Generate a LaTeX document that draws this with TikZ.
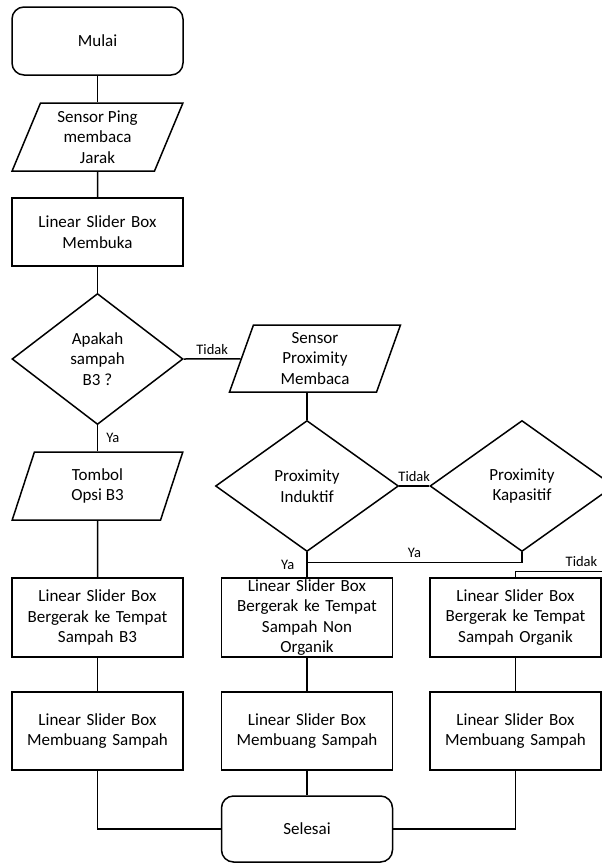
\documentclass[tikz,border=0pt]{standalone}
\usepackage{fontspec}
\setmainfont{Carlito}
\usetikzlibrary{shapes.geometric}

\newcommand{\flowfont}{\fontsize{17}{20.5}\selectfont}
\newcommand{\tagfont}{\fontsize{14.5}{16}\selectfont}

\begin{document}
\begin{tikzpicture}[x=1pt, y=-1pt, auto,
    terminal/.style ={rectangle, draw=black, line width=1.5pt, rounded corners=12pt,
      minimum width=171pt, minimum height=68pt, font=\flowfont},
    io/.style ={trapezium, draw=black, line width=1.5pt, trapezium stretches=true,
      trapezium left angle=72, trapezium right angle=108,
      minimum width=171pt, minimum height=68pt, align=center, font=\flowfont},
    decision/.style={diamond, draw=black, line width=1.5pt, inner sep=0pt,
      minimum width=171pt, minimum height=131pt, align=center, font=\flowfont},
    block_center/.style ={rectangle, draw=black, line width=1.5pt,
      text width=160pt, align=center, inner xsep=5.5pt, inner ysep=0pt,
      minimum width=171pt, minimum height=79pt, font=\flowfont},
    tag/.style ={font=\tagfont, inner sep=4pt},
    line/.style ={draw, line width=1.5pt}]

    \useasboundingbox (0,0) rectangle (602,863);
    \clip (0,0) rectangle (602,863);

    % Place nodes, first column
    \node [terminal] (mulai) at (97.5,41) {Mulai};
    \node [io, trapezium left angle=70, trapezium right angle=110] (ping) at (97.5,137) {Sensor Ping\\membaca\\Jarak};
    \node [block_center, minimum height=68pt] (membuka) at (97.5,232) {Linear Slider Box\\Membuka};
    \node [decision] (b3) at (97.5,359) {Apakah\\sampah\\B3 ?};
    \node [io, trapezium left angle=76, trapezium right angle=104] (tombol) at (97.5,486) {Tombol\\Opsi B3};
    \node [block_center] (b3box) at (97.5,617.5) {Linear Slider Box\\Bergerak ke Tempat\\Sampah B3};
    \node [block_center, minimum height=78pt] (dump1) at (97.5,731) {Linear Slider Box\\Membuang Sampah};

    % second column
    \node [io, minimum height=67pt, trapezium left angle=76, trapezium right angle=104] (prox) at (315,358.5) {Sensor\\Proximity\\Membaca};
    \node [decision, minimum width=183pt] (ind) at (307,486) {Proximity\\Induktif};
    \node [block_center] (nonorg) at (307,617.5) {Linear Slider Box\\Bergerak ke Tempat\\Sampah Non\\Organik};
    \node [block_center, minimum height=78pt] (dump2) at (307,731) {Linear Slider Box\\Membuang Sampah};
    \node [terminal, minimum height=66pt] (selesai) at (307,829) {Selesai};

    % third column
    \node [decision, minimum width=184pt] (kap) at (522,486) {Proximity\\Kapasitif};
    \node [block_center] (organik) at (515.5,617.5) {Linear Slider Box\\Bergerak ke Tempat\\Sampah Organik};
    \node [block_center, minimum height=78pt] (dump3) at (515.5,731) {Linear Slider Box\\Membuang Sampah};

    % joints of the connectors
    \coordinate (yajoin) at ([yshift=-10pt]ind.south);
    \coordinate (kapturn) at (640,486);
    \coordinate (kapjoin) at ([yshift=6pt]organik.north);

    % paths from the first column
    \path [line] (mulai) -- (ping);
    \path [line] (ping) -- (membuka);
    \path [line] (membuka) -- (b3);
    \path [line] (b3) -- node [tag, right, xshift=4pt] {Ya} (tombol);
    \path [line] (tombol) -- (b3box);
    \path [line] (b3box) -- (dump1);
    \path [line] (dump1.south) |- (selesai.west);
    \path [line] (b3.east) -- node [tag, above] {Tidak} (prox);

    % paths from the second column
    \path [line] (ind.north |- prox.south) -- (ind.north);
    \path [line] (ind.east) -- node [tag, above] {Tidak} (kap.west);
    \path [line] (ind.south) -- node [tag, left, xshift=-8pt] {Ya} (nonorg.north);
    \path [line] (nonorg) -- (dump2);
    \path [line] (dump2) -- (selesai);

    % paths from the third column
    \path [line] (kap.south) |- node [tag, above, pos=0.75] {Ya} (yajoin);
    \path [line] (kap.east) -- (kapturn) |- node [tag, above, pos=0.735] {Tidak} (kapjoin) -- (organik.north);
    \path [line] (organik) -- (dump3);
    \path [line] (dump3.south) |- (selesai.east);

\end{tikzpicture}
\end{document}
